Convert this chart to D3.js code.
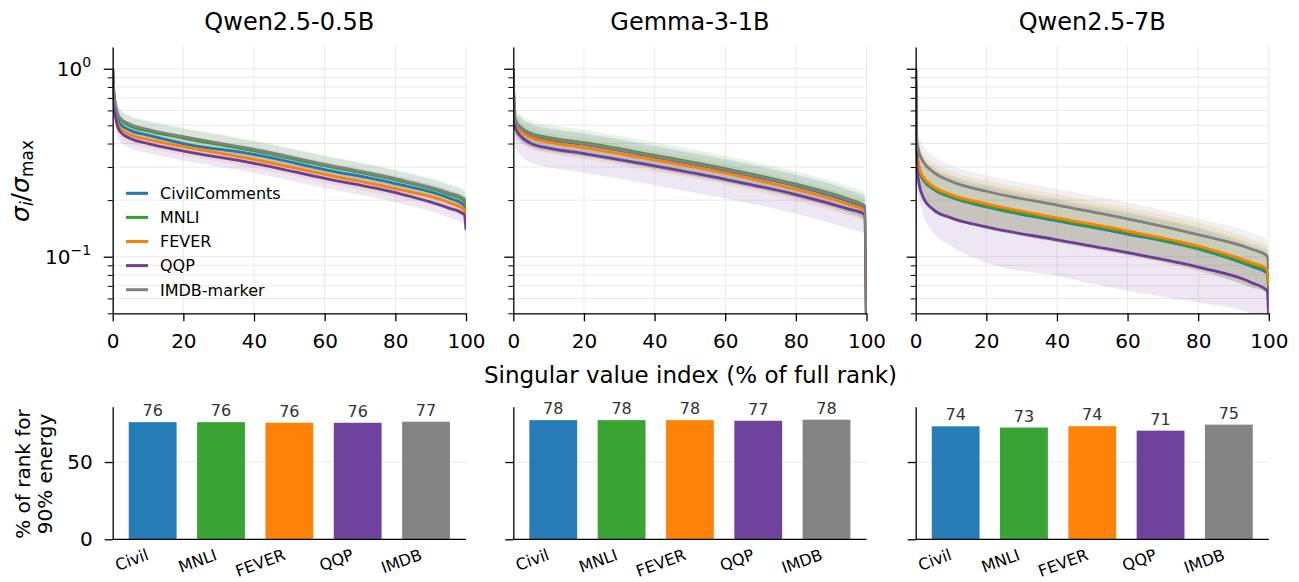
<!DOCTYPE html>
<html><head><meta charset="utf-8">
<script src="https://cdn.jsdelivr.net/npm/d3@7"></script>
<style>
html,body{margin:0;padding:0;background:#fff;}
text{font-family:"DejaVu Sans",sans-serif;}
</style></head>
<body>
<script>
// ---------------- DATA ----------------
const seriesNames = ["CivilComments", "MNLI", "FEVER", "QQP", "IMDB-marker"];
const barCategories = ["Civil", "MNLI", "FEVER", "QQP", "IMDB"];
const seriesColors = ["#1f78b4", "#33a02c", "#ff7f00", "#6a3d9a", "#808080"];
const panelTitles = ["Qwen2.5-0.5B", "Gemma-3-1B", "Qwen2.5-7B"];
const xTicks = [0, 20, 40, 60, 80, 100];
const barTicks = [0, 50];

// x positions (% of full rank) at which the curves were read
const xs = [0, 0.3, 1, 2, 5, 10, 20, 40, 60, 80, 95, 99.5, 100];

// Qwen2.5-0.5B
const q05_civil    = [1.0, 0.74, 0.57, 0.51, 0.47, 0.443, 0.40, 0.350, 0.291, 0.245, 0.206, 0.188, 0.172];
const q05_civil_lo = [1.0, 0.67, 0.52, 0.464, 0.428, 0.403, 0.364, 0.319, 0.265, 0.223, 0.187, 0.171, 0.155];
const q05_civil_hi = [1.0, 0.81, 0.627, 0.561, 0.517, 0.487, 0.44, 0.385, 0.320, 0.270, 0.227, 0.207, 0.190];
const q05_mnli     = [1.0, 0.76, 0.60, 0.54, 0.495, 0.467, 0.428, 0.366, 0.305, 0.256, 0.215, 0.198, 0.18];
const q05_mnli_lo  = [1.0, 0.68, 0.54, 0.486, 0.446, 0.42, 0.385, 0.329, 0.275, 0.230, 0.194, 0.178, 0.16];
const q05_mnli_hi  = [1.0, 0.85, 0.672, 0.605, 0.554, 0.523, 0.479, 0.41, 0.342, 0.287, 0.241, 0.222, 0.20];
const q05_fever    = [1.0, 0.72, 0.55, 0.485, 0.445, 0.42, 0.385, 0.329, 0.274, 0.230, 0.195, 0.178, 0.160];
const q05_fever_lo = [1.0, 0.65, 0.495, 0.437, 0.40, 0.378, 0.347, 0.296, 0.247, 0.207, 0.176, 0.16, 0.142];
const q05_fever_hi = [1.0, 0.79, 0.605, 0.534, 0.49, 0.462, 0.424, 0.362, 0.301, 0.253, 0.215, 0.196, 0.176];
const q05_qqp      = [1.0, 0.70, 0.53, 0.465, 0.425, 0.40, 0.365, 0.314, 0.261, 0.219, 0.182, 0.168, 0.139];
const q05_qqp_lo   = [1.0, 0.62, 0.47, 0.414, 0.378, 0.356, 0.325, 0.279, 0.232, 0.195, 0.162, 0.148, 0.122];
const q05_qqp_hi   = [1.0, 0.77, 0.583, 0.512, 0.468, 0.44, 0.402, 0.345, 0.287, 0.241, 0.200, 0.185, 0.153];
const q05_imdb     = [1.0, 0.77, 0.62, 0.55, 0.505, 0.475, 0.435, 0.372, 0.310, 0.260, 0.219, 0.203, 0.186];
const q05_imdb_lo  = [1.0, 0.70, 0.564, 0.50, 0.46, 0.432, 0.396, 0.339, 0.282, 0.237, 0.199, 0.185, 0.169];
const q05_imdb_hi  = [1.0, 0.86, 0.694, 0.616, 0.566, 0.532, 0.487, 0.417, 0.347, 0.291, 0.245, 0.227, 0.208];

// Gemma-3-1B
const g1_civil    = [1.0, 0.55, 0.505, 0.48, 0.443, 0.42, 0.396, 0.339, 0.288, 0.238, 0.197, 0.182, 0.04];
const g1_civil_lo = [1.0, 0.473, 0.434, 0.413, 0.381, 0.361, 0.341, 0.292, 0.248, 0.205, 0.169, 0.157, 0.035];
const g1_civil_hi = [1.0, 0.627, 0.576, 0.547, 0.505, 0.479, 0.451, 0.386, 0.328, 0.271, 0.225, 0.207, 0.046];
const g1_mnli     = [1.0, 0.56, 0.516, 0.49, 0.453, 0.43, 0.404, 0.346, 0.294, 0.243, 0.202, 0.186, 0.04];
const g1_mnli_lo  = [1.0, 0.476, 0.439, 0.417, 0.385, 0.366, 0.343, 0.294, 0.25, 0.207, 0.172, 0.158, 0.034];
const g1_mnli_hi  = [1.0, 0.655, 0.604, 0.573, 0.53, 0.503, 0.473, 0.405, 0.344, 0.284, 0.236, 0.218, 0.047];
const g1_fever    = [1.0, 0.535, 0.49, 0.465, 0.43, 0.407, 0.381, 0.327, 0.278, 0.228, 0.190, 0.176, 0.04];
const g1_fever_lo = [1.0, 0.465, 0.426, 0.405, 0.374, 0.354, 0.331, 0.284, 0.242, 0.198, 0.165, 0.153, 0.035];
const g1_fever_hi = [1.0, 0.599, 0.549, 0.521, 0.482, 0.456, 0.427, 0.366, 0.311, 0.255, 0.213, 0.197, 0.045];
const g1_qqp      = [1.0, 0.51, 0.466, 0.44, 0.40, 0.378, 0.354, 0.304, 0.258, 0.214, 0.179, 0.168, 0.04];
const g1_qqp_lo   = [1.0, 0.403, 0.368, 0.348, 0.316, 0.299, 0.28, 0.24, 0.204, 0.169, 0.141, 0.133, 0.032];
const g1_qqp_hi   = [1.0, 0.571, 0.522, 0.493, 0.448, 0.423, 0.396, 0.34, 0.289, 0.24, 0.2, 0.188, 0.045];
const g1_imdb     = [1.0, 0.555, 0.51, 0.485, 0.448, 0.425, 0.399, 0.342, 0.291, 0.240, 0.200, 0.184, 0.04];
const g1_imdb_lo  = [1.0, 0.477, 0.439, 0.417, 0.385, 0.366, 0.343, 0.294, 0.25, 0.206, 0.172, 0.158, 0.034];
const g1_imdb_hi  = [1.0, 0.633, 0.581, 0.553, 0.511, 0.485, 0.455, 0.39, 0.332, 0.274, 0.228, 0.21, 0.046];

// Qwen2.5-7B
const q7_civil    = [1.0, 0.36, 0.289, 0.259, 0.229, 0.207, 0.184, 0.155, 0.132, 0.110, 0.089, 0.082, 0.064];
const q7_civil_lo = [1.0, 0.281, 0.225, 0.202, 0.179, 0.161, 0.144, 0.121, 0.103, 0.086, 0.069, 0.064, 0.05];
const q7_civil_hi = [1.0, 0.461, 0.37, 0.332, 0.293, 0.265, 0.236, 0.198, 0.169, 0.141, 0.114, 0.105, 0.082];
const q7_mnli     = [1.0, 0.365, 0.292, 0.262, 0.231, 0.209, 0.186, 0.157, 0.134, 0.111, 0.0905, 0.084, 0.067];
const q7_mnli_lo  = [1.0, 0.277, 0.222, 0.199, 0.176, 0.159, 0.141, 0.119, 0.102, 0.084, 0.069, 0.064, 0.051];
const q7_mnli_hi  = [1.0, 0.475, 0.38, 0.341, 0.30, 0.272, 0.242, 0.204, 0.174, 0.144, 0.118, 0.109, 0.087];
const q7_fever    = [1.0, 0.37, 0.298, 0.268, 0.237, 0.214, 0.191, 0.161, 0.137, 0.114, 0.093, 0.086, 0.070];
const q7_fever_lo = [1.0, 0.27, 0.22, 0.198, 0.175, 0.158, 0.141, 0.119, 0.101, 0.084, 0.069, 0.064, 0.052];
const q7_fever_hi = [1.0, 0.49, 0.396, 0.356, 0.315, 0.285, 0.254, 0.214, 0.182, 0.152, 0.124, 0.114, 0.093];
const q7_qqp      = [1.0, 0.32, 0.242, 0.21, 0.178, 0.161, 0.144, 0.123, 0.105, 0.088, 0.073, 0.066, 0.045];
const q7_qqp_lo   = [1.0, 0.24, 0.20, 0.17, 0.134, 0.114, 0.093, 0.079, 0.066, 0.057, 0.050, 0.046, 0.03];
const q7_qqp_hi   = [1.0, 0.42, 0.315, 0.273, 0.231, 0.209, 0.187, 0.16, 0.137, 0.114, 0.095, 0.086, 0.059];
const q7_imdb     = [1.0, 0.42, 0.357, 0.323, 0.282, 0.252, 0.223, 0.188, 0.159, 0.131, 0.110, 0.101, 0.086];
const q7_imdb_lo  = [1.0, 0.34, 0.29, 0.265, 0.231, 0.207, 0.183, 0.154, 0.130, 0.107, 0.090, 0.083, 0.07];
const q7_imdb_hi  = [1.0, 0.52, 0.44, 0.397, 0.344, 0.307, 0.272, 0.229, 0.194, 0.160, 0.134, 0.123, 0.105];

// % of rank for 90% energy (bar heights) and printed labels
const q05_bars = [75.8, 75.8, 75.4, 75.4, 76.1];
const g1_bars  = [77.1, 77.1, 77.1, 76.7, 77.4];
const q7_bars  = [73.1, 72.3, 73.2, 70.3, 74.2];
const q05_barLabels = ["76", "76", "76", "76", "77"];
const g1_barLabels  = ["78", "78", "78", "77", "78"];
const q7_barLabels  = ["74", "73", "74", "71", "75"];

// ---------------- ASSEMBLY ----------------
const panels = [
  {title: panelTitles[0], mean: [q05_civil, q05_mnli, q05_fever, q05_qqp, q05_imdb],
   lo: [q05_civil_lo, q05_mnli_lo, q05_fever_lo, q05_qqp_lo, q05_imdb_lo],
   hi: [q05_civil_hi, q05_mnli_hi, q05_fever_hi, q05_qqp_hi, q05_imdb_hi],
   bars: q05_bars, barLabels: q05_barLabels, L: 112.7, R: 466},
  {title: panelTitles[1], mean: [g1_civil, g1_mnli, g1_fever, g1_qqp, g1_imdb],
   lo: [g1_civil_lo, g1_mnli_lo, g1_fever_lo, g1_qqp_lo, g1_imdb_lo],
   hi: [g1_civil_hi, g1_mnli_hi, g1_fever_hi, g1_qqp_hi, g1_imdb_hi],
   bars: g1_bars, barLabels: g1_barLabels, L: 513.3, R: 866.5},
  {title: panelTitles[2], mean: [q7_civil, q7_mnli, q7_fever, q7_qqp, q7_imdb],
   lo: [q7_civil_lo, q7_mnli_lo, q7_fever_lo, q7_qqp_lo, q7_imdb_lo],
   hi: [q7_civil_hi, q7_mnli_hi, q7_fever_hi, q7_qqp_hi, q7_imdb_hi],
   bars: q7_bars, barLabels: q7_barLabels, L: 915.7, R: 1268.8}
];

const W = 1299, H = 582;
const TOP = {t: 47, b: 313.3};
const BOT = {t: 406.7, b: 539.3};
const gridColor = "#e9e9e9";

const svg = d3.select("body").append("svg").attr("width", W).attr("height", H);

const yMajor = [0.1, 1];
const yMinor = [0.05, 0.06, 0.07, 0.08, 0.09, 0.2, 0.3, 0.4, 0.5, 0.6, 0.7, 0.8, 0.9];

panels.forEach((p, pi) => {
  const x = d3.scaleLinear().domain([0, 100]).range([p.L, p.R]);
  const y = d3.scaleLog().domain([0.05, 1.305]).range([TOP.b, TOP.t]);
  const g = svg.append("g");

  const clipId = "clip" + pi;
  svg.append("clipPath").attr("id", clipId).append("rect")
    .attr("x", p.L).attr("y", TOP.t).attr("width", p.R - p.L).attr("height", TOP.b - TOP.t);

  // grid
  g.append("g").selectAll("line").data(yMajor.concat(yMinor)).join("line")
    .attr("x1", p.L).attr("x2", p.R).attr("y1", d => y(d)).attr("y2", d => y(d))
    .attr("stroke", gridColor).attr("stroke-width", 1);
  g.append("g").selectAll("line").data(xTicks).join("line")
    .attr("x1", d => x(d)).attr("x2", d => x(d)).attr("y1", TOP.t).attr("y2", TOP.b)
    .attr("stroke", gridColor).attr("stroke-width", 1);

  const plot = g.append("g").attr("clip-path", `url(#${clipId})`);
  const area = d3.area().curve(d3.curveMonotoneX)
    .x(d => x(d[0])).y0(d => y(d[1])).y1(d => y(d[2]));
  const line = d3.line().curve(d3.curveMonotoneX)
    .x(d => x(d[0])).y(d => y(d[1]));

  p.mean.forEach((m, si) => {
    const pts = xs.map((xv, k) => [xv, p.lo[si][k], p.hi[si][k]]);
    plot.append("path").attr("d", area(pts))
      .attr("fill", seriesColors[si]).attr("fill-opacity", 0.12).attr("stroke", "none");
  });
  p.mean.forEach((m, si) => {
    const pts = xs.map((xv, k) => [xv, m[k]]);
    plot.append("path").attr("d", line(pts))
      .attr("fill", "none").attr("stroke", seriesColors[si]).attr("stroke-width", 2.8)
      .attr("stroke-linejoin", "round");
  });

  // axes
  const xAxis = d3.axisBottom(x).tickValues(xTicks).tickSize(8).tickSizeOuter(0).tickPadding(13);
  const gx = g.append("g").attr("transform", `translate(0,${TOP.b})`).call(xAxis);
  gx.select(".domain").attr("stroke", "#000").attr("stroke-width", 1.3);
  gx.selectAll(".tick line").attr("stroke-width", 1.3);
  gx.selectAll("text").attr("font-size", 20).attr("font-family", "DejaVu Sans").attr("fill", "#000");

  const yAxMaj = d3.axisLeft(y).tickValues(yMajor).tickSize(9).tickSizeOuter(0).tickFormat("");
  const gy = g.append("g").attr("transform", `translate(${p.L},0)`).call(yAxMaj);
  gy.select(".domain").attr("stroke", "#000").attr("stroke-width", 1.3);
  gy.selectAll(".tick line").attr("stroke-width", 1.3);
  const yAxMin = d3.axisLeft(y).tickValues(yMinor).tickSize(5).tickSizeOuter(0).tickFormat("");
  const gym = g.append("g").attr("transform", `translate(${p.L},0)`).call(yAxMin);
  gym.select(".domain").remove();
  gym.selectAll(".tick line").attr("stroke-width", 1);

  if (pi === 0) {
    yMajor.forEach(v => {
      const t = g.append("text").attr("x", p.L - 21.5).attr("y", y(v) + 7)
        .attr("text-anchor", "end").attr("font-size", 20);
      t.append("tspan").text("10");
      t.append("tspan").attr("dy", -9).attr("font-size", 14).text(Math.round(Math.log10(v)) === 0 ? "0" : "\u22121");
    });
  }

  // title
  svg.append("text").attr("x", (p.L + p.R) / 2).attr("y", 30).attr("text-anchor", "middle")
    .attr("font-size", 24).text(p.title);

  // ---------- bars ----------
  const xb = d3.scaleBand().domain(barCategories).range([p.L, p.R]).paddingInner(0.3).paddingOuter(0.235);
  const yb = d3.scaleLinear().domain([0, 85.8]).range([BOT.b, BOT.t]);
  const gb = svg.append("g");
  gb.append("line").attr("x1", p.L).attr("x2", p.R).attr("y1", yb(50)).attr("y2", yb(50))
    .attr("stroke", gridColor).attr("stroke-width", 1);
  gb.selectAll("rect").data(p.bars).join("rect")
    .attr("x", (d, i) => xb(barCategories[i])).attr("width", xb.bandwidth())
    .attr("y", d => yb(d)).attr("height", d => yb(0) - yb(d))
    .attr("fill", (d, i) => seriesColors[i]).attr("fill-opacity", 0.97);
  gb.selectAll("text.val").data(p.bars).join("text").attr("class", "val")
    .attr("x", (d, i) => xb(barCategories[i]) + xb.bandwidth() / 2)
    .attr("y", d => yb(d) - 6).attr("text-anchor", "middle").attr("font-size", 16)
    .attr("fill", "#333").text((d, i) => p.barLabels[i]);
  gb.selectAll("text.cat").data(barCategories).join("text").attr("class", "cat")
    .attr("transform", d => `translate(${xb(d) + xb.bandwidth() / 2 - 3},${BOT.b + 20}) rotate(-20)`)
    .attr("text-anchor", "end").attr("font-size", 16).attr("fill", "#000").text(d => d);

  const ybAxis = d3.axisLeft(yb).tickValues(barTicks).tickSize(8).tickSizeOuter(0).tickPadding(12)
    .tickFormat(pi === 0 ? d3.format("d") : "");
  const gby = gb.append("g").attr("transform", `translate(${p.L},0)`).call(ybAxis);
  gby.select(".domain").attr("stroke", "#000").attr("stroke-width", 1.3);
  gby.selectAll(".tick line").attr("stroke-width", 1.3);
  gby.selectAll("text").attr("font-size", 20).attr("font-family", "DejaVu Sans").attr("fill", "#000");
  gb.append("line").attr("x1", p.L).attr("x2", p.R).attr("y1", BOT.b).attr("y2", BOT.b)
    .attr("stroke", "#000").attr("stroke-width", 1.3);
});

// legend (first panel)
const lg = svg.append("g");
seriesNames.forEach((n, i) => {
  const yy = 193.3 + 24.1 * i;
  lg.append("line").attr("x1", 126).attr("x2", 148).attr("y1", yy).attr("y2", yy)
    .attr("stroke", seriesColors[i]).attr("stroke-width", 3);
  lg.append("text").attr("x", 160).attr("y", yy + 5.8).attr("font-size", 16).text(n);
});

// x label
svg.append("text").attr("x", 690.5).attr("y", 383).attr("text-anchor", "middle")
  .attr("font-size", 23).text("Singular value index (% of full rank)");

// y label top
const yl = svg.append("text").attr("transform", "translate(29,181) rotate(-90)")
  .attr("text-anchor", "middle").attr("font-size", 25);
yl.append("tspan").attr("font-style", "italic").text("\u03c3");
yl.append("tspan").attr("font-style", "italic").attr("font-size", 17).attr("dy", 4).text("i");
yl.append("tspan").attr("dy", -4).text("/");
yl.append("tspan").attr("font-style", "italic").text("\u03c3");
yl.append("tspan").attr("font-size", 17).attr("dy", 4).text("max");

// y label bottom (two lines)
const ylb = svg.append("g").attr("transform", "translate(0,474) rotate(-90)");
ylb.append("text").attr("x", 0).attr("y", 30).attr("text-anchor", "middle").attr("font-size", 20).text("% of rank for");
ylb.append("text").attr("x", 0).attr("y", 52).attr("text-anchor", "middle").attr("font-size", 20).text("90% energy");
</script>
</body></html>
